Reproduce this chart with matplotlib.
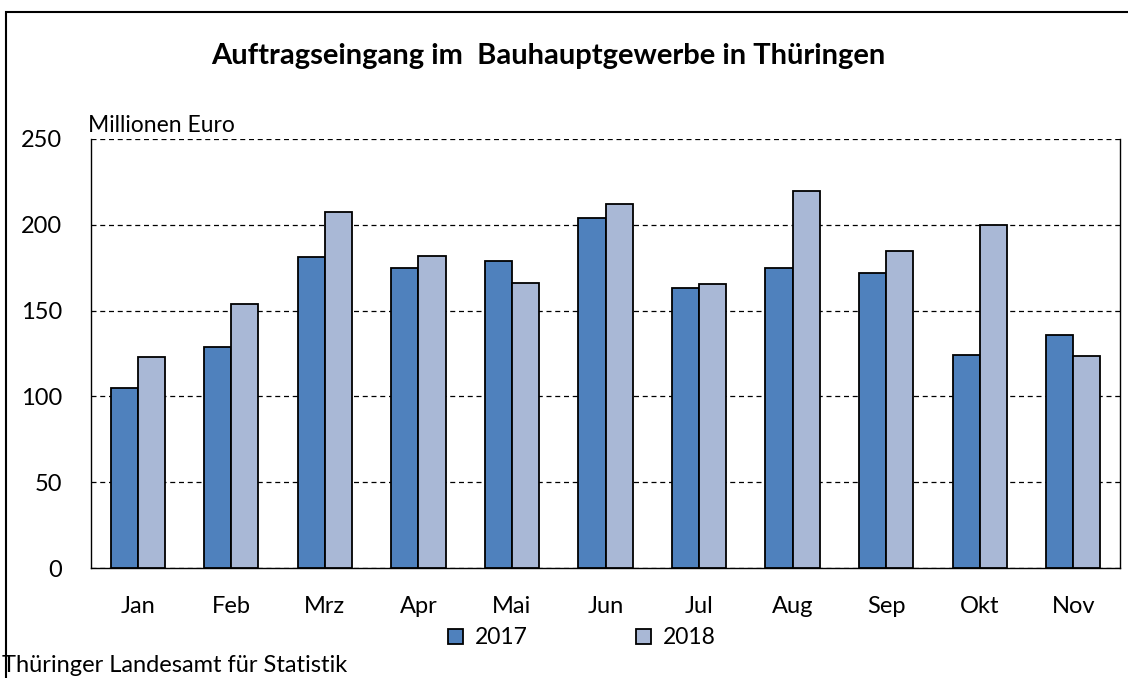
import numpy as np
import matplotlib.pyplot as plt
from matplotlib.patches import Rectangle

# Auftragseingang im Bauhauptgewerbe, Millionen Euro
monate = ['Jan', 'Feb', 'Mrz', 'Apr', 'Mai', 'Jun', 'Jul', 'Aug', 'Sep', 'Okt', 'Nov']
werte_2017 = [105, 129, 181, 175, 179, 204, 163, 175, 172, 124, 136]
werte_2018 = [123, 154, 207.5, 182, 166, 212, 165.5, 219.5, 184.5, 200, 123.5]

plt.rcParams['font.family'] = ['Lato', 'DejaVu Sans']

fig = plt.figure(figsize=(11.28, 6.78), dpi=100)
ax = fig.add_axes([0.0807, 0.1622, 0.9122, 0.6328])

x = np.arange(len(monate))
w = 0.29
ax.bar(x - w / 2, werte_2017, w, color='#4f81bd', edgecolor='black', linewidth=1.3,
       label='2017', zorder=3)
ax.bar(x + w / 2, werte_2018, w, color='#a9b8d6', edgecolor='black', linewidth=1.3,
       label='2018', zorder=3)

ax.set_xlim(-0.5, len(monate) - 0.5)
ax.set_ylim(0, 250)
ax.set_yticks(range(0, 251, 50))
ax.set_xticks(x)
ax.set_xticklabels(monate)
ax.tick_params(axis='both', length=0, labelsize=17)
ax.tick_params(axis='y', pad=21)
ax.tick_params(axis='x', pad=20)
ax.yaxis.grid(True, linestyle=(0, (4, 3)), color='black', linewidth=0.9, zorder=0)
ax.spines['top'].set_visible(False)
for s in ['left', 'right', 'bottom']:
    ax.spines[s].set_linewidth(1.0)

ax.legend(loc='center', bbox_to_anchor=(582 / 1128, 1 - 638 / 678),
          bbox_transform=fig.transFigure, ncol=2, frameon=False,
          fontsize=16.5, handlelength=0.65, handleheight=0.65, columnspacing=4.7,
          handletextpad=0.55)

fig.text(88 / 1128, 1 - 125 / 678, 'Millionen Euro', fontsize=16.5, ha='left', va='center')
fig.text(548 / 1128, 1 - 56 / 678, 'Auftragseingang im  Bauhauptgewerbe in Thüringen',
         fontsize=21, fontweight='bold', ha='center', va='center')
fig.text(2 / 1128, 1 - 666 / 678, 'Thüringer Landesamt für Statistik', fontsize=17,
         ha='left', va='center')

# Rahmen um die Grafik
fig.patches.append(Rectangle((6 / 1128, -0.1), 1.2, 1.1 - 12 / 678, transform=fig.transFigure,
                             fill=False, edgecolor='black', linewidth=1.5, clip_on=False))

fig.savefig('out.png', dpi=100)
